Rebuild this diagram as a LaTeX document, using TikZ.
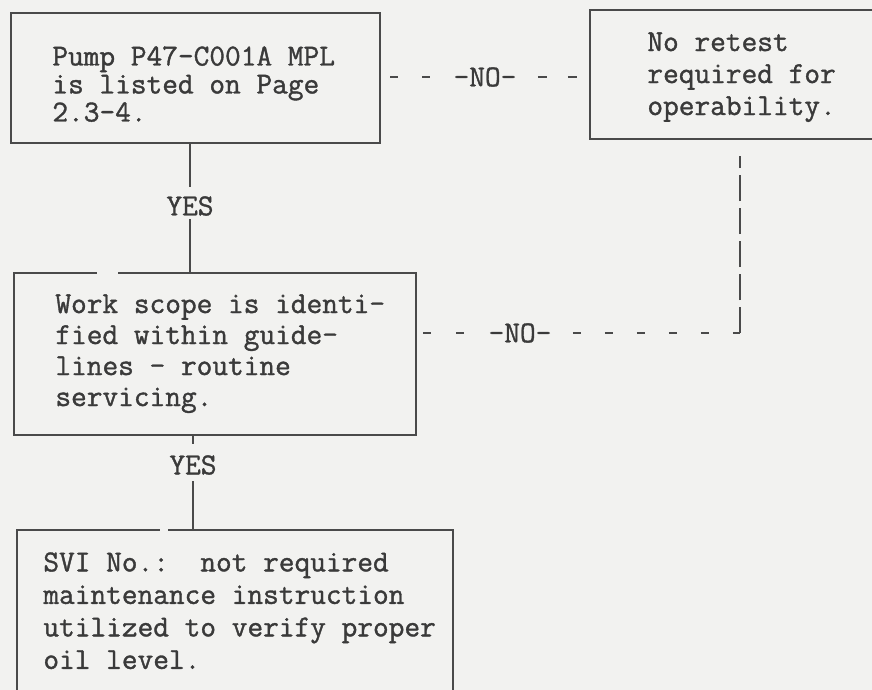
\documentclass[tikz,border=0pt]{standalone}
\usepackage{fontspec}
\setmonofont{Latin Modern Mono}[BoldFont={Latin Modern Mono},BoldFeatures={FakeBold=1.2}]
\definecolor{ink}{HTML}{3A3A3A}
\definecolor{rule}{HTML}{4A4A4A}
\definecolor{paper}{HTML}{F2F2F0}
\begin{document}
\begin{tikzpicture}[x=0.5pt,y=-0.5pt,
  box/.style={anchor=north west,inner sep=0pt,outer sep=0pt},
  txt/.style={anchor=north west,inner sep=0pt,align=left,text=ink},
  lbl/.style={inner sep=0pt,text=ink,font=\ttfamily\bfseries\fontsize{15.24}{16}\selectfont},
  conn/.style={draw=rule,line width=1pt},
]
\useasboundingbox (0,0) rectangle (872,690);
\fill[paper] (0,0) rectangle (872,690);
\clip (0,0) rectangle (872,690);

% boxes
\node[box,draw=rule,line width=1pt,minimum width=184.5pt,minimum height=65pt] (b1) at (11,13) {};
\node[box,draw=rule,line width=1pt,minimum width=155pt,minimum height=64.5pt] (b2) at (590,10) {};
\node[box,minimum width=201pt,minimum height=81pt] (b3) at (14,273) {};
\draw[conn] ([xshift=52pt]b3.north west) -- (b3.north east) -- (b3.south east)
  -- (b3.south west) -- (b3.north west) -- ([xshift=41.5pt]b3.north west);
\node[box,minimum width=218pt,minimum height=85pt] (b4) at (17,530) {};
\draw[conn] ([xshift=75.5pt]b4.north west) -- (b4.north east) -- (b4.south east)
  -- (b4.south west) -- (b4.north west) -- ([xshift=71.5pt]b4.north west);

% texts
\node[txt,font=\ttfamily\bfseries\fontsize{15.24}{14}\selectfont] (t1) at (52,46)
  {Pump P47-C001A MPL\\is listed on Page\\2.3-4.};
\node[txt,font=\ttfamily\bfseries\fontsize{15.24}{16}\selectfont] (t2) at (647,32)
  {No retest\\required for\\operability.};
\node[txt,font=\ttfamily\bfseries\fontsize{15.24}{15.5}\selectfont] (t3) at (55,294)
  {Work scope is identi-\\fied within guide-\\lines - routine\\servicing.};
\node[txt,font=\ttfamily\bfseries\fontsize{15.24}{16.25}\selectfont] (t4) at (43,552)
  {SVI No.:~ not required\\maintenance instruction\\utilized to verify proper\\oil level.};

% YES connectors
\node[lbl] (yes1) at (190,206) {YES};
\draw[conn,shorten >=4.5pt] (b1.south -| yes1) -- (yes1.north);
\draw[conn,shorten <=1.5pt] (yes1.south) -- (b3.north -| yes1);
\node[lbl] (yes2) at (193,465) {YES};
\draw[conn,shorten >=5.5pt] (b3.south -| yes2) -- (yes2.north);
\draw[conn,shorten <=3pt] (yes2.south) -- (b4.north -| yes2);

% NO connectors
\node[lbl] (no1) at (485,77) {-NO-};
\draw[conn,dash pattern=on 4pt off 12pt,dash phase=11pt] (b1.east |- no1) -- (no1.west);
\draw[conn,dash pattern=on 4.5pt off 10.5pt,dash phase=4.5pt] (no1.east) -- (b2.west |- no1);

\node[lbl] (no2) at (520,333) {-NO-};
\coordinate (cn) at (740,333);
\draw[conn,dash pattern=on 4pt off 12.5pt,dash phase=13pt] (b3.east |- no2) -- (no2.west);
\draw[conn,dash pattern=on 4pt off 12pt,dash phase=5.5pt] (no2.east) -- (cn);
\draw[conn,dash pattern=on 13pt off 3.5pt,shorten >=8.5pt] (cn) -- (cn |- b2.south);
\end{tikzpicture}
\end{document}
